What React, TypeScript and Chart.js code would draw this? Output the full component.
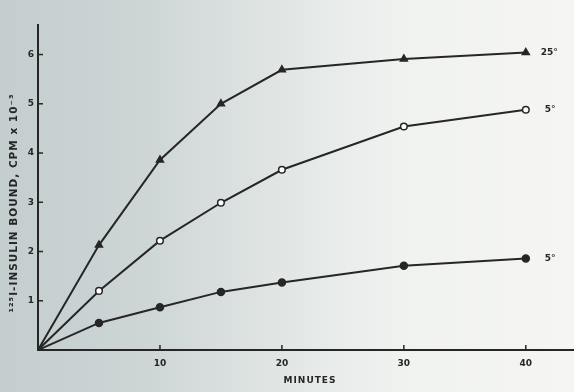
import React, { useEffect, useRef } from "react";
import { Chart, registerables } from "chart.js";

Chart.register(...registerables);

const minutes = [0, 5, 10, 15, 20, 30, 40];
const bound25 = [0, 2.13, 3.86, 5.0, 5.69, 5.91, 6.04];
const bound5Open = [0, 1.2, 2.22, 2.99, 3.66, 4.54, 4.88];
const bound5Filled = [0, 0.55, 0.87, 1.18, 1.37, 1.71, 1.86];
const seriesLabels = ["25°", "5°", "5°"];
const xTickValues = [10, 20, 30, 40];
const yTickValues = [1, 2, 3, 4, 5, 6];
const xTitle = "MINUTES";
const yTitle = "¹²⁵I-INSULIN BOUND, CPM x 10⁻³";

const INK = "#262626";

const toPoints = (ys: number[]) => minutes.map((m, i) => ({ x: m, y: ys[i] }));
const radii = (r: number) => minutes.map((m) => (m === 0 ? 0 : r));

const decorPlugin = {
  id: "decor",
  afterDraw(chart: any) {
    const ctx = chart.ctx;
    const xs = chart.scales.x;
    const ys = chart.scales.y;
    const area = chart.chartArea;
    ctx.save();
    ctx.strokeStyle = INK;
    // extend the x axis line to the edge of the page
    const axisY = Math.round(area.bottom);
    ctx.lineWidth = 2;
    ctx.beginPath();
    ctx.moveTo(area.right - 2, axisY);
    ctx.lineTo(chart.width, axisY);
    ctx.stroke();
    ctx.lineWidth = 1.5;
    xTickValues.forEach((v) => {
      const px = xs.getPixelForValue(v);
      ctx.beginPath();
      ctx.moveTo(px, area.bottom);
      ctx.lineTo(px, area.bottom - 5);
      ctx.stroke();
    });
    yTickValues.forEach((v) => {
      const py = ys.getPixelForValue(v);
      ctx.beginPath();
      ctx.moveTo(area.left - 1, py);
      ctx.lineTo(area.left + 5, py);
      ctx.stroke();
    });
    ctx.fillStyle = INK;
    ctx.font = "bold 9px 'DejaVu Sans'";
    ctx.textAlign = "left";
    ctx.textBaseline = "middle";
    chart.data.datasets.forEach((ds: any, i: number) => {
      const meta = chart.getDatasetMeta(i);
      const last = meta.data[meta.data.length - 1];
      ctx.fillText(seriesLabels[i], last.x + (i === 0 ? 15 : 19), last.y);
    });
    // axis titles
    ctx.textAlign = "center";
    ctx.font = "bold 9px 'DejaVu Sans'";
    (ctx as any).letterSpacing = "1px";
    ctx.fillText(xTitle, 310, 381);
    ctx.save();
    ctx.translate(14, 203);
    ctx.rotate(-Math.PI / 2);
    ctx.font = "bold 10.5px 'DejaVu Sans'";
    ctx.fillText(yTitle, 0, 0);
    ctx.restore();
    ctx.restore();
  },
};

export default function App() {
  const ref = useRef<HTMLCanvasElement | null>(null);
  useEffect(() => {
    if (!ref.current) return;
    const common = {
      borderColor: INK,
      borderWidth: 2,
      tension: 0,
      pointBorderColor: INK,
      pointBorderWidth: 1.5,
    };
    const chart = new Chart(ref.current, {
      type: "line",
      data: {
        datasets: [
          {
            ...common,
            label: "25°",
            data: toPoints(bound25),
            pointStyle: "triangle",
            pointRadius: radii(4),
            pointBackgroundColor: INK,
          },
          {
            ...common,
            label: "5° open",
            data: toPoints(bound5Open),
            pointStyle: "circle",
            pointRadius: radii(3.3),
            pointBackgroundColor: "#ffffff",
          },
          {
            ...common,
            label: "5° filled",
            data: toPoints(bound5Filled),
            pointStyle: "circle",
            pointRadius: radii(3.5),
            pointBackgroundColor: INK,
          },
        ],
      },
      options: {
        responsive: false,
        animation: false,
        layout: { padding: { top: 25, right: 0, left: 0, bottom: 0 } },
        plugins: {
          legend: { display: false },
          tooltip: { enabled: false },
        },
        scales: {
          x: {
            type: "linear",
            min: 0,
            max: 43.5,
            grid: { display: false, drawTicks: false },
            border: { display: true, color: INK, width: 2 },
            afterFit: (s: any) => {
              s.height = 42;
            },
            afterBuildTicks: (s: any) => {
              s.ticks = xTickValues.map((v) => ({ value: v }));
            },
            ticks: {
              color: INK,
              font: { family: "'DejaVu Sans'", size: 9, weight: "bold" },
              padding: 8,
              maxRotation: 0,
            },
          },
          y: {
            type: "linear",
            min: 0,
            max: 6.6,
            grid: { display: false, drawTicks: false },
            border: { display: true, color: INK, width: 2 },
            afterFit: (s: any) => {
              s.width = 38;
            },
            afterBuildTicks: (s: any) => {
              s.ticks = yTickValues.map((v) => ({ value: v }));
            },
            ticks: {
              color: INK,
              font: { family: "'DejaVu Sans'", size: 9, weight: "bold" },
              padding: 4,
            },
          },
        },
      },
      plugins: [decorPlugin],
    } as any);
    return () => chart.destroy();
  }, []);
  return (
    <div
      style={{
        position: "fixed",
        left: 0,
        top: 0,
        width: 574,
        height: 392,
        background:
          "linear-gradient(to right, #c4cecf 0%, #cdd5d5 25%, #e2e7e5 50%, #f0f2f0 70%, #f5f6f4 100%)",
      }}
    >
      <canvas ref={ref} width={574} height={392} style={{ display: "block" }} />
    </div>
  );
}
